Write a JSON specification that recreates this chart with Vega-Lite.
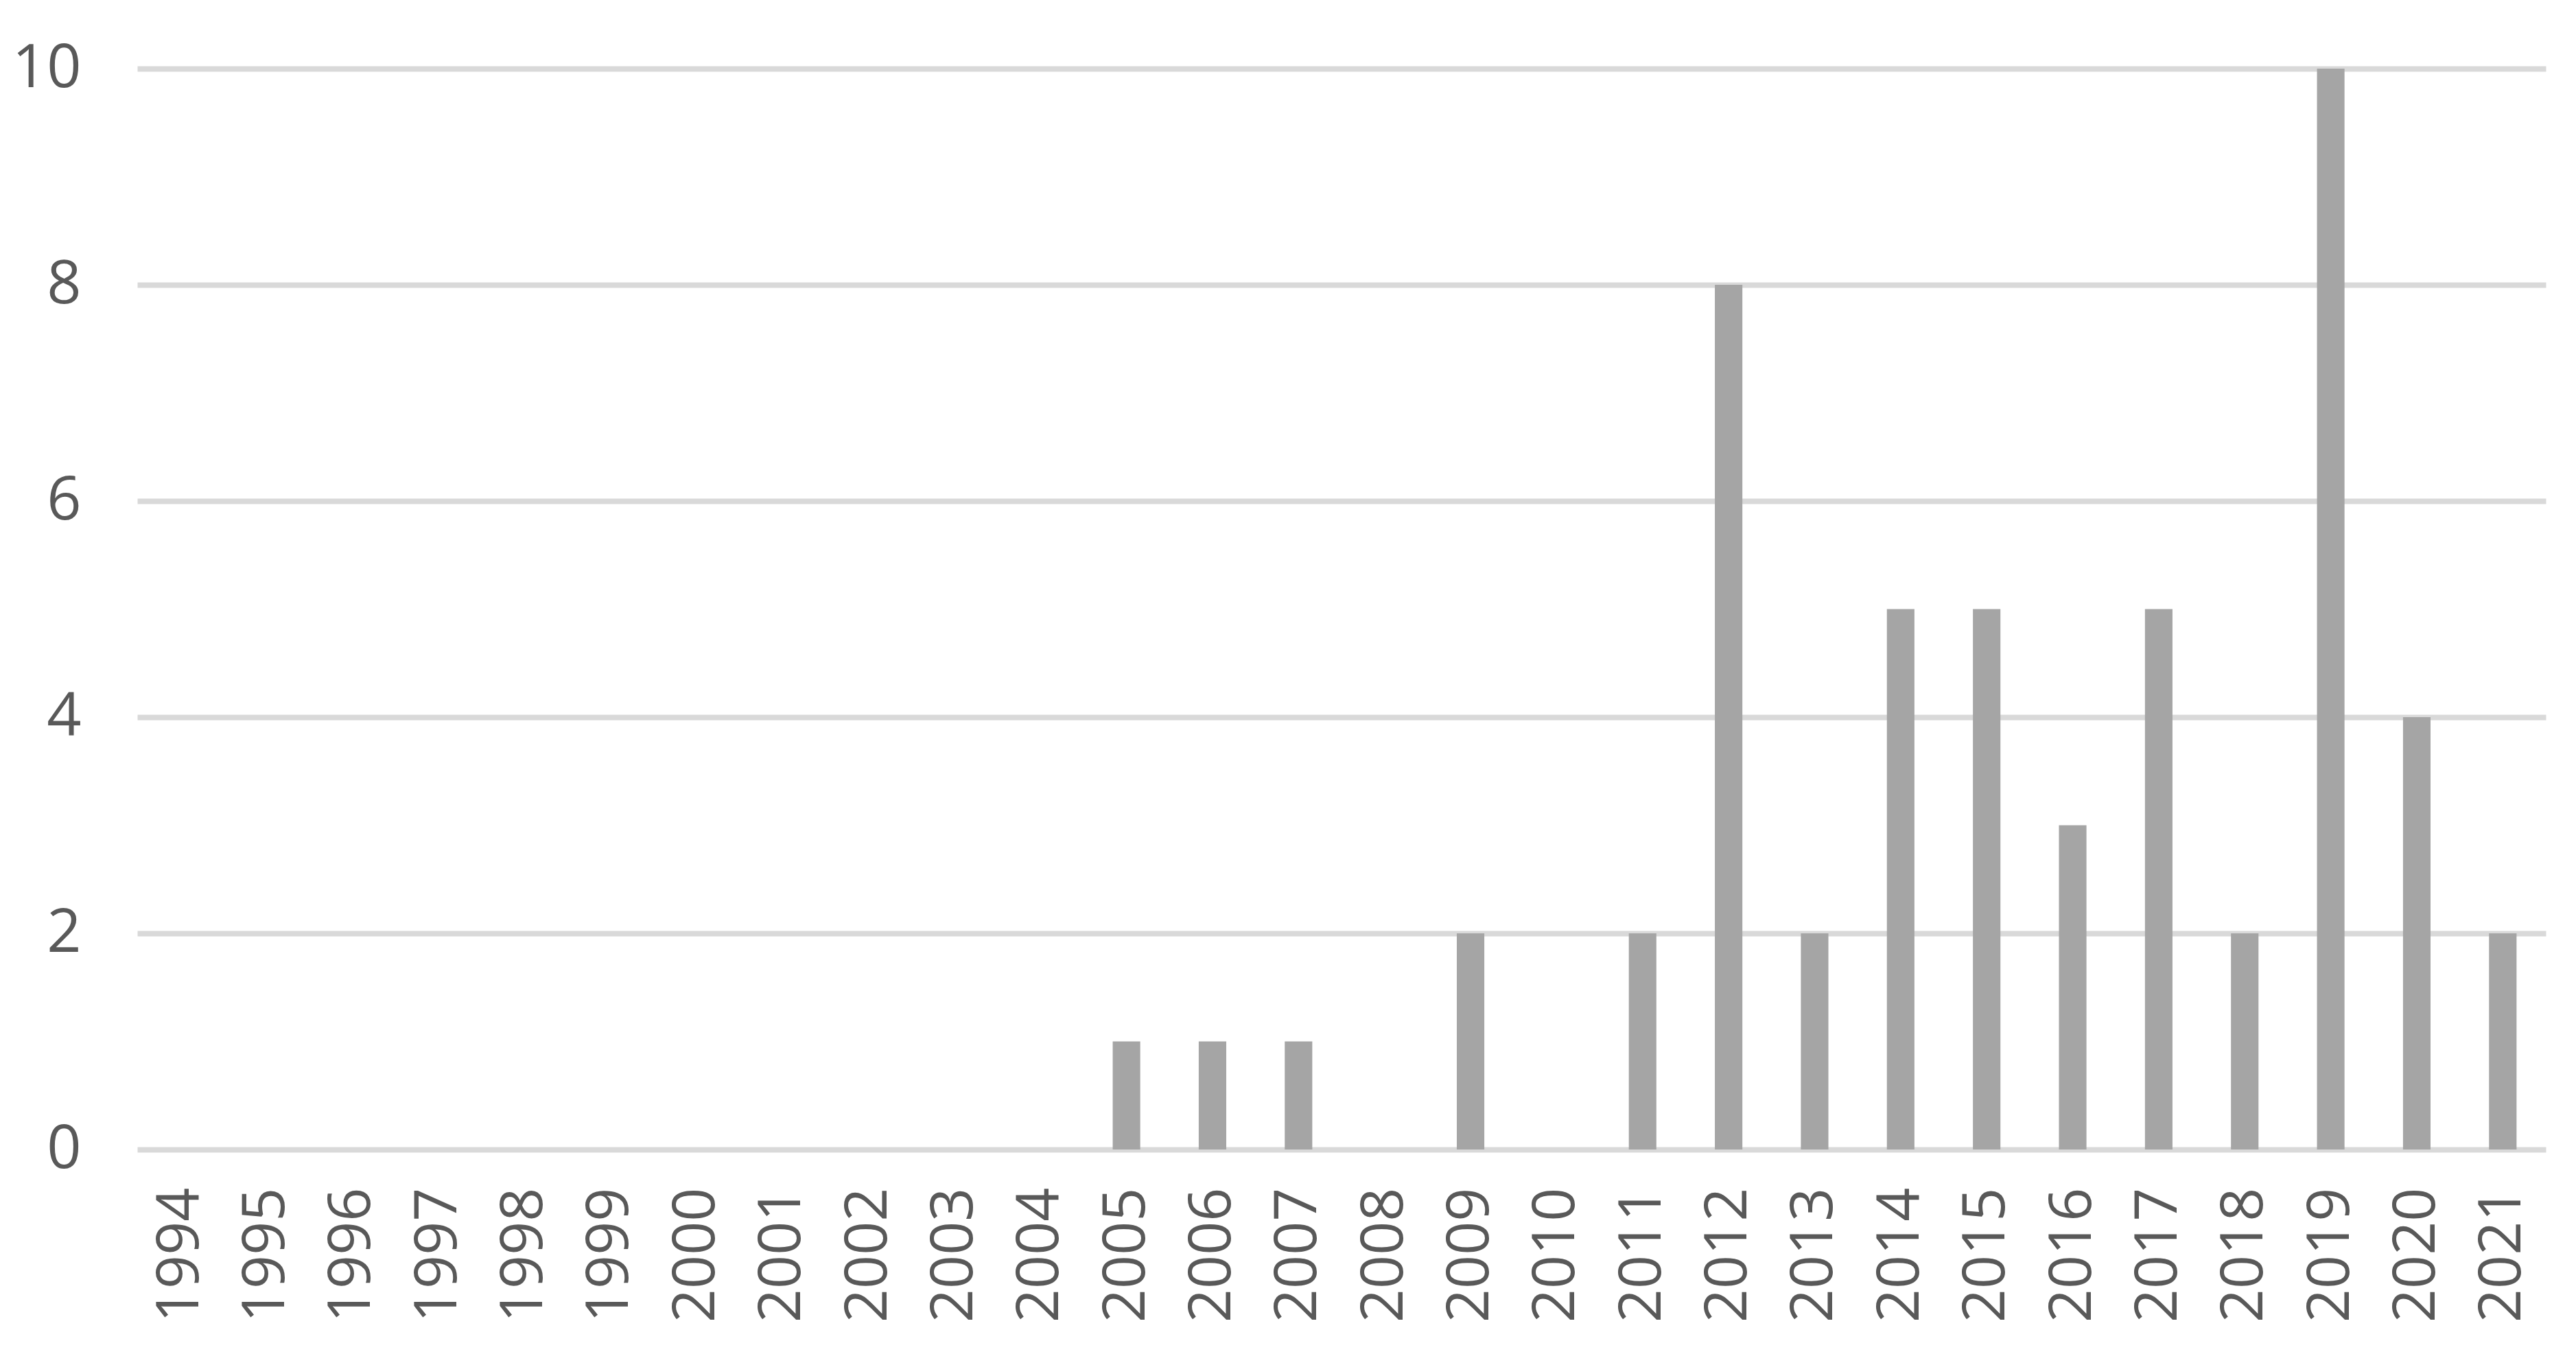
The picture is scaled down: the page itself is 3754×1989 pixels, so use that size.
{
  "$schema": "https://vega.github.io/schema/vega-lite/v6.json",
  "width": 3510,
  "height": 1575,
  "autosize": {"type": "none"},
  "padding": {"left": 200, "top": 100, "right": 44, "bottom": 314},
  "background": "white",
  "data": {"values": [
    {"year": "1994", "count": 0}, {"year": "1995", "count": 0}, {"year": "1996", "count": 0},
    {"year": "1997", "count": 0}, {"year": "1998", "count": 0}, {"year": "1999", "count": 0},
    {"year": "2000", "count": 0}, {"year": "2001", "count": 0}, {"year": "2002", "count": 0},
    {"year": "2003", "count": 0}, {"year": "2004", "count": 0}, {"year": "2005", "count": 1},
    {"year": "2006", "count": 1}, {"year": "2007", "count": 1}, {"year": "2008", "count": 0},
    {"year": "2009", "count": 2}, {"year": "2010", "count": 0}, {"year": "2011", "count": 2},
    {"year": "2012", "count": 8}, {"year": "2013", "count": 2}, {"year": "2014", "count": 5},
    {"year": "2015", "count": 5}, {"year": "2016", "count": 3}, {"year": "2017", "count": 5},
    {"year": "2018", "count": 2}, {"year": "2019", "count": 10}, {"year": "2020", "count": 4},
    {"year": "2021", "count": 2}
  ]},
  "mark": {"type": "bar", "color": "#a5a5a5"},
  "encoding": {
    "x": {
      "field": "year", "type": "nominal", "sort": null,
      "scale": {"paddingInner": 0.68, "paddingOuter": 0.34},
      "axis": {
        "title": null, "domain": false, "ticks": false, "grid": false,
        "labelAngle": -90, "labelAlign": "right", "labelBaseline": "middle",
        "labelPadding": 55, "labelFont": "Open Sans", "labelFontSize": 86,
        "labelColor": "#595959", "labelLimit": 0, "labelOverlap": false
      }
    },
    "y": {
      "field": "count", "type": "quantitative",
      "scale": {"domain": [0, 10], "nice": false},
      "axis": {
        "title": null, "domain": false, "ticks": false,
        "values": [0, 2, 4, 6, 8, 10],
        "grid": true, "gridColor": "#d9d9d9", "gridWidth": 8,
        "labelPadding": 82, "labelFont": "Open Sans", "labelFontSize": 88,
        "labelColor": "#595959"
      }
    }
  },
  "config": {"view": {"stroke": null}}
}
